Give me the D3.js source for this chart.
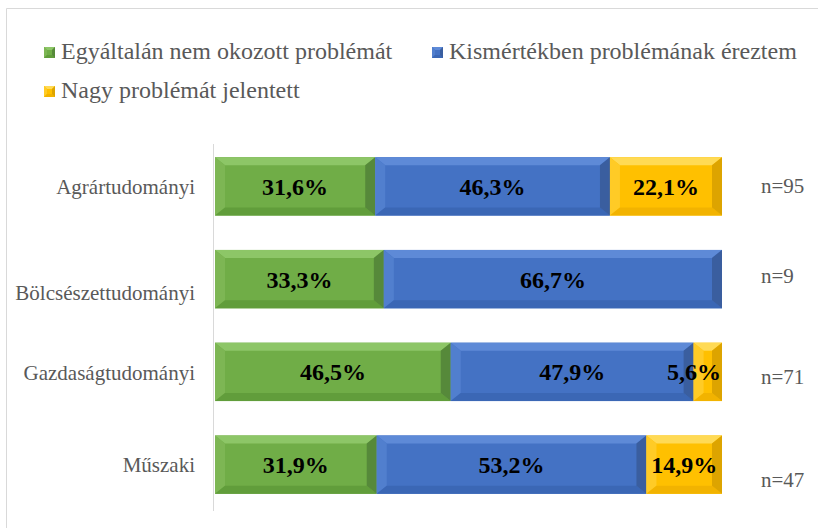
<!DOCTYPE html>
<html>
<head>
<meta charset="utf-8">
<script src="https://cdn.jsdelivr.net/npm/d3@7"></script>
<style>
  body { margin: 0; background: #fff; }
  svg { display: block; }
</style>
</head>
<body>
<div id="chart"></div>
<script>
// data
var categories = ["Agrártudományi", "Bölcsészettudományi", "Gazdaságtudományi", "Műszaki"];
var seriesNames = ["Egyáltalán nem okozott problémát", "Kismértékben problémának éreztem", "Nagy problémát jelentett"];
var notAtAll = [31.6, 33.3, 46.5, 31.9];
var slightly = [46.3, 66.7, 47.9, 53.2];
var bigProblem = [22.1, 0, 5.6, 14.9];
var sampleSizes = ["n=95", "n=9", "n=71", "n=47"];

var width = 818, height = 528;
var font = "'Liberation Serif', serif";
var colors = [
    { main: "#70AD47", top: "#8DC667", left: "#7DB654", bottom: "#619D3B", right: "#56893A" },
    { main: "#4472C4", top: "#5E8AD7", left: "#517FCE", bottom: "#3B67B5", right: "#3A5E9F" },
    { main: "#FFC000", top: "#FFDA55", left: "#FFCB26", bottom: "#F2B300", right: "#DDA400" }
];
// label nudges, as placed in the original
var catDy = [0, 14, 1, 0];
var nDy = [-1, -3, 5, 15];

var rows = categories.map(function(c, i) {
    return { cat: c, vals: [notAtAll[i], slightly[i], bigProblem[i]], n: sampleSizes[i], i: i };
});

var svg = d3.select("#chart").append("svg")
    .attr("width", width)
    .attr("height", height)
    .style("font-family", font);

// chart frame
svg.append("path")
    .attr("d", "M6.5," + height + "V8.5H" + width)
    .attr("fill", "none")
    .attr("stroke", "#d9d9d9")
    .attr("stroke-width", 1);

var x = d3.scaleLinear().domain([0, 100]).range([215, 722]);
var y = d3.scaleBand().domain(categories).range([140, 511]).paddingInner(0.37).paddingOuter(0.185);

function bevel(g, x0, y0, w, h, c, bx, by) {
    bx = Math.min(bx, w / 2);
    by = Math.min(by, h / 2);
    var x1 = x0 + w, y1 = y0 + h;
    g.append("rect").attr("x", x0).attr("y", y0).attr("width", w).attr("height", h).attr("fill", c.main);
    var polys = [
        [[x0, y0], [x1, y0], [x1 - bx, y0 + by], [x0 + bx, y0 + by], c.top],
        [[x0, y0], [x0 + bx, y0 + by], [x0 + bx, y1 - by], [x0, y1], c.left],
        [[x0, y1], [x0 + bx, y1 - by], [x1 - bx, y1 - by], [x1, y1], c.bottom],
        [[x1, y0], [x1, y1], [x1 - bx, y1 - by], [x1 - bx, y0 + by], c.right]
    ];
    polys.forEach(function(p) {
        g.append("polygon")
            .attr("points", p.slice(0, 4).map(function(pt) { return pt.join(","); }).join(" "))
            .attr("fill", p[4]);
    });
}

// y axis line
svg.append("line")
    .attr("x1", 213.5).attr("x2", 213.5)
    .attr("y1", 144).attr("y2", 511)
    .attr("stroke", "#d9d9d9");

var bars = svg.append("g");
rows.forEach(function(r) {
    var start = 0;
    r.vals.forEach(function(v, k) {
        if (v <= 0) { start += v; return; }
        var x0 = x(start), x1 = x(start + v);
        var g = bars.append("g");
        bevel(g, x0, y(r.cat), x1 - x0, y.bandwidth(), colors[k], 10, 8);
        var label = g.append("text")
            .attr("y", y(r.cat) + y.bandwidth() / 2)
            .attr("dy", "0.35em")
            .attr("font-size", 24)
            .attr("font-weight", "bold")
            .attr("fill", "#000")
            .text(v.toFixed(1).replace(".", ",") + "%");
        var tw = label.node().getComputedTextLength();
        var cx = (x0 + x1) / 2;
        if (x1 - x0 < tw + 4) cx = x1 - tw / 2 - 1;
        label.attr("x", cx).attr("text-anchor", "middle");
        start += v;
    });
});

// category labels
svg.append("g").selectAll("text")
    .data(rows)
    .enter().append("text")
    .attr("x", 195)
    .attr("y", function(d) { return y(d.cat) + y.bandwidth() / 2 + catDy[d.i]; })
    .attr("dy", "0.35em")
    .attr("text-anchor", "end")
    .attr("font-size", 21)
    .attr("fill", "#595959")
    .text(function(d) { return d.cat; });

// n labels
svg.append("g").selectAll("text")
    .data(rows)
    .enter().append("text")
    .attr("x", 761)
    .attr("y", function(d) { return y(d.cat) + y.bandwidth() / 2 + nDy[d.i]; })
    .attr("dy", "0.35em")
    .attr("font-size", 21)
    .attr("fill", "#595959")
    .text(function(d) { return d.n; });

// legend
var legendPos = [[44, 59], [432, 59], [44, 98]];
var legend = svg.append("g");
seriesNames.forEach(function(name, k) {
    var p = legendPos[k];
    var g = legend.append("g");
    bevel(g, p[0], p[1] - 12, 11, 11, colors[k], 3, 3);
    g.append("text")
        .attr("x", p[0] + 17)
        .attr("y", p[1])
        .attr("font-size", 24)
        .attr("fill", "#595959")
        .text(name);
});
</script>
</body>
</html>
